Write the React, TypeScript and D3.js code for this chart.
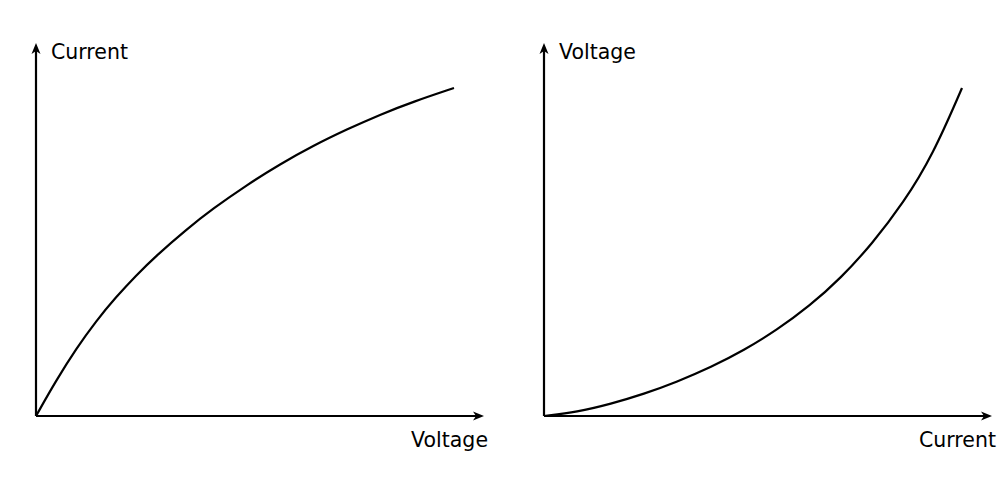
import React from "react";
import * as d3 from "d3";

// Left panel: current vs voltage (normalized 0..1)
const leftX = [0, 0.048, 0.096, 0.144, 0.191, 0.239, 0.287, 0.359, 0.423, 0.505, 0.584, 0.663, 0.744, 0.823, 0.902, 1];
const leftY = [0, 0.108, 0.205, 0.29, 0.362, 0.428, 0.488, 0.568, 0.632, 0.705, 0.768, 0.824, 0.874, 0.919, 0.958, 1];
// Right panel: voltage vs current (normalized 0..1)
const rightX = [0, 0.079, 0.16, 0.239, 0.318, 0.4, 0.478, 0.557, 0.635, 0.71, 0.785, 0.86, 0.93, 1];
const rightY = [0, 0.012, 0.037, 0.067, 0.104, 0.149, 0.2, 0.262, 0.335, 0.42, 0.525, 0.65, 0.795, 1];

const panels = [
  { xs: leftX, ys: leftY, xLabel: "Voltage", yLabel: "Current", ox: 36 },
  { xs: rightX, ys: rightY, xLabel: "Current", yLabel: "Voltage", ox: 544 },
];

const FONT = "DejaVu Sans, sans-serif";

function Panel({ p }: { p: (typeof panels)[number] }) {
  const oy = 416;
  const x = d3.scaleLinear().domain([0, 1]).range([p.ox, p.ox + 418]);
  const y = d3.scaleLinear().domain([0, 1]).range([oy, 88]);
  const pts = p.xs.map((v, i) => [v, p.ys[i]] as [number, number]);
  const line = d3
    .line<[number, number]>()
    .x((d) => x(d[0]))
    .y((d) => y(d[1]))
    .curve(d3.curveBasis);
  const xEnd = p.ox + 448;
  const yEnd = 43;
  const L = 11;
  const W = 4.5;
  const n = 3;
  const xArrow = `M${xEnd},${oy} L${xEnd - L},${oy - W} L${xEnd - L + n},${oy} L${xEnd - L},${oy + W} Z`;
  const yArrow = `M${p.ox},${yEnd} L${p.ox - W},${yEnd + L} L${p.ox},${yEnd + L - n} L${p.ox + W},${yEnd + L} Z`;
  return (
    <g>
      <line x1={p.ox} y1={oy} x2={xEnd - 6} y2={oy} stroke="#000" strokeWidth={2.2} />
      <line x1={p.ox} y1={oy} x2={p.ox} y2={yEnd + 6} stroke="#000" strokeWidth={2.2} />
      <path d={xArrow} fill="#000" />
      <path d={yArrow} fill="#000" />
      <path d={line(pts) || ""} fill="none" stroke="#000" strokeWidth={2.2} strokeLinecap="butt" />
      <text x={p.ox + 15} y={59} fontFamily={FONT} fontSize={20.5} fill="#000">
        {p.yLabel}
      </text>
      <text x={xEnd + 4} y={447} fontFamily={FONT} fontSize={20.5} fill="#000" textAnchor="end">
        {p.xLabel}
      </text>
    </g>
  );
}

export default function App() {
  return (
    <svg
      width={1000}
      height={504}
      style={{ position: "absolute", left: 0, top: 0, background: "#fff" }}
    >
      <rect width={1000} height={504} fill="#fff" />
      {panels.map((p, i) => (
        <Panel key={i} p={p} />
      ))}
    </svg>
  );
}
